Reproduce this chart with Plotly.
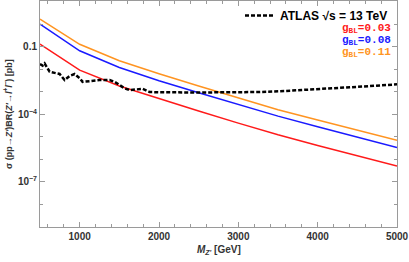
import plotly.graph_objects as go

# ---- data (log10 of cross section in pb) ----
mass = [500, 1000, 1500, 2000, 2500, 3000, 3500, 4000, 4500, 5000]
log_g003 = [-0.88, -2.04, -2.74, -3.31, -3.85, -4.39, -4.91, -5.38, -5.84, -6.29]
log_g008 = [0.00, -1.18, -1.92, -2.51, -3.04, -3.57, -4.08, -4.55, -5.01, -5.47]
log_g011 = [0.23, -0.89, -1.62, -2.20, -2.74, -3.28, -3.80, -4.25, -4.70, -5.15]

atlas_mass = [500, 533, 558, 621, 684, 747, 810, 873, 936, 999, 1037, 1125, 1252,
              1378, 1441, 1504, 1567, 1630, 1693, 1794, 1882, 2000, 2513, 3270,
              3600, 4000, 4500, 5000]
atlas_log = [-1.77, -1.84, -1.74, -2.11, -2.16, -2.21, -2.48, -2.30, -2.21, -2.39,
             -2.56, -2.52, -2.48, -2.48, -2.56, -2.70, -2.85, -2.92, -2.89, -2.87,
             -3.01, -3.02, -3.03, -3.01, -2.96, -2.89, -2.78, -2.67]

series_names = ["g<sub>BL</sub>=0.03", "g<sub>BL</sub>=0.08", "g<sub>BL</sub>=0.11"]
series_colors = ["#ff1a1a", "#1a1aff", "#ff9421"]
atlas_name = "ATLAS √s = 13 TeV"

y_tickvals = [1e-1, 1e-4, 1e-7]
y_ticktext = ["0.1", "10<sup>−4</sup>", "10<sup>−7</sup>"]
y_minor = [10.0 ** k for k in range(-9, 2)]
x_tickvals = [1000, 2000, 3000, 4000, 5000]
x_minor = list(range(600, 5000, 200))

W, H = 409, 262
ML, MR, MT, MB = 40, 12, 1, 35
PW, PH = W - ML - MR, H - MT - MB

fig = go.Figure()
for logs, name, color in zip([log_g003, log_g008, log_g011], series_names, series_colors):
    fig.add_trace(go.Scatter(x=mass, y=[10 ** v for v in logs], mode="lines",
                             line=dict(color=color, width=1.5), name=name,
                             showlegend=False))

fig.add_trace(go.Scatter(x=atlas_mass, y=[10 ** v for v in atlas_log], mode="lines",
                         line=dict(color="black", width=2.5, dash="4px,2px"),
                         name=atlas_name, showlegend=True))

for i, (name, color) in enumerate(zip(series_names, series_colors)):
    ypx = 29 + i * 11.5
    fig.add_annotation(xref="paper", yref="paper", x=(393 - ML) / PW,
                       y=1 - (ypx - MT) / PH,
                       xanchor="right", yanchor="middle", showarrow=False,
                       text="<b>" + name + "</b>",
                       font=dict(family="Liberation Mono", size=11, color=color))

title_font = dict(family="Liberation Sans", size=10, color="#333333", weight="bold")
fig.add_annotation(xref="paper", yref="paper", x=0.5, y=-(250 - MT - PH) / PH,
                   xanchor="center", yanchor="middle", showarrow=False,
                   text="<i>M<sub>Z'</sub></i> [GeV]", font=title_font)
fig.add_annotation(xref="paper", yref="paper", x=-(ML - 8) / PW, y=0.5,
                   xanchor="center", yanchor="middle", showarrow=False, textangle=-90,
                   text="σ (pp→<i>Z'</i>)BR(<i>Z'</i>→<i>l</i><sup>+</sup><i>l</i><sup>−</sup>) [pb]",
                   font=dict(family="Liberation Sans", size=9, color="#333333", weight="bold"))

axis_common = dict(showline=True, linecolor="#9a9a9a", linewidth=1, mirror="ticks",
                   ticks="inside", tickcolor="#9a9a9a", showgrid=False, zeroline=False,
                   automargin=False,
                   tickfont=dict(family="Liberation Sans", size=10, color="#333333",
                                 weight="bold"))

fig.update_xaxes(range=[500, 5000], tickvals=x_tickvals, ticklen=5,
                 minor=dict(tickvals=x_minor, ticklen=3, tickcolor="#9a9a9a", ticks="inside"),
                 **axis_common)
fig.update_yaxes(type="log", range=[-9.0, 1.03], tickvals=y_tickvals, ticktext=y_ticktext,
                 ticklen=5,
                 minor=dict(tickvals=y_minor, ticklen=3, tickcolor="#9a9a9a", ticks="inside"),
                 **axis_common)

fig.update_layout(width=W, height=H, margin=dict(l=ML, r=MR, t=MT, b=MB, autoexpand=False),
                  plot_bgcolor="white", paper_bgcolor="white",
                  legend=dict(x=(393 - ML) / PW, y=1.0, xanchor="right", yanchor="top",
                              bgcolor="rgba(0,0,0,0)", borderwidth=0, itemwidth=30,
                              font=dict(family="Liberation Sans", size=12, color="black",
                                        weight="bold")))

fig.write_html("out.html", config={"displayModeBar": False},
               post_script="document.body.style.margin='0';document.body.style.overflow='hidden';")
